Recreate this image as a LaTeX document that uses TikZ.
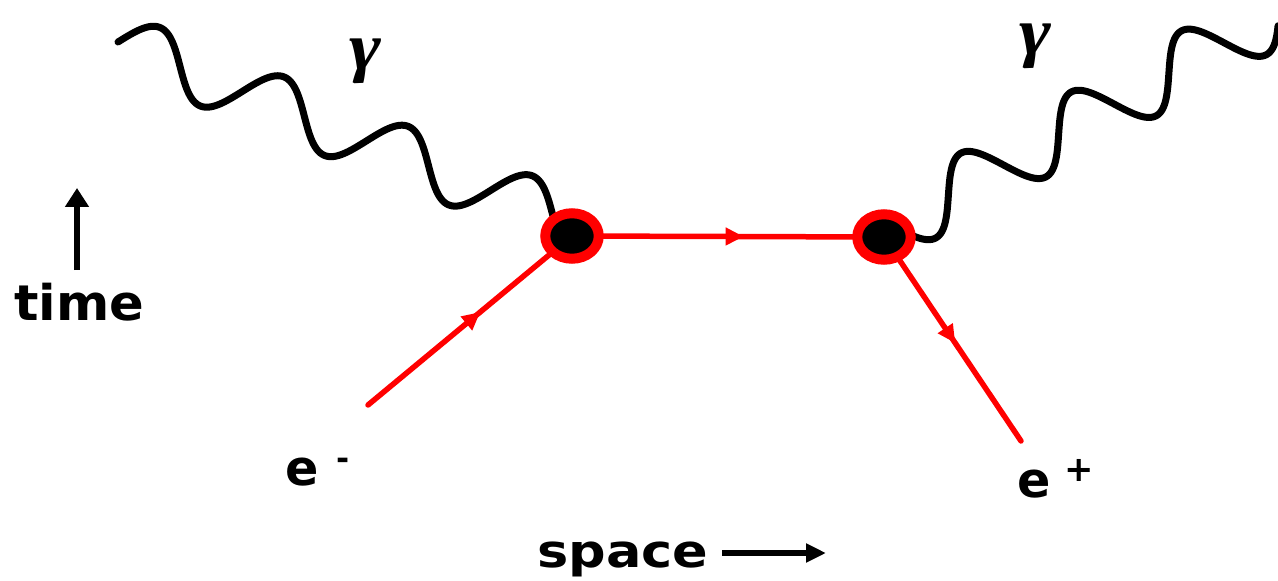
\documentclass[tikz,border=0pt]{standalone}
\usepackage{fontspec}
\newfontfamily\labfont{DejaVu Sans}
\newfontfamily\timefont{DejaVu Sans}[FakeStretch=1.04]
\newfontfamily\spacefont{DejaVu Sans}[FakeStretch=1.15]
\newfontfamily\gamfont{Liberation Serif}[FakeStretch=1.15]
\usetikzlibrary{shapes.geometric, arrows.meta, decorations.markings}
\tikzset{
  photon/.style={line width=0.14cm, black, line cap=round, line join=round},
  fermion/.style={red, line width=0.11cm, line cap=round},
  midarrow/.style={decoration={markings,
      mark=at position #1 with {\arrow{Triangle[length=0.36cm,width=0.34cm]}}},
      postaction={decorate}},
  vertex/.style={ellipse, draw=red, fill=black, line width=0.2cm,
      minimum width=1.07cm, minimum height=0.91cm, inner sep=0pt},
  lbl/.style={inner sep=0pt, font=\labfont\bfseries\fontsize{28pt}{30pt}\selectfont},
  timelbl/.style={inner sep=0pt, font=\timefont\bfseries\fontsize{28pt}{30pt}\selectfont},
  spacelbl/.style={inner sep=0pt, font=\spacefont\bfseries\fontsize{26pt}{28pt}\selectfont},
  gam/.style={inner sep=0pt, font=\gamfont\bfseries\itshape\fontsize{38pt}{40pt}\selectfont},
  axisarrow/.style={black, line width=0.11cm}
}
\begin{document}
\begin{tikzpicture}[x=0.02cm, y=-0.02cm]
\useasboundingbox (0,0) rectangle (1278,581);
\clip (0,0) rectangle (1278,581);
\fill[white] (0,0) rectangle (1278,581);
% key points
\coordinate (cA) at (572,236);
\coordinate (cB) at (884,237);
\coordinate (e1) at (368,405);
\coordinate (e2) at (1021,441);
\coordinate (g1) at (118,42);
\coordinate (g2) at (913,238);
% photons
\draw[photon, shift={(g1)}] plot[domain=0:468, samples=260, variable=\u]
  ({0.929*\u+10.73*sin(2.6926*\u)}, {0.370*\u-26.94*sin(2.6926*\u)});
\draw[photon, shift={(g2)}] plot[domain=-20:402, samples=240, variable=\u]
  ({7.8+0.875*\u+15.04*cos(2.857*\u)}, {-27.2-0.485*\u+27.13*cos(2.857*\u)});
% fermion lines
\draw[fermion, midarrow=0.55] (e1) -- (cA);
\draw[fermion, midarrow=0.55] (cA) -- (cB);
\draw[fermion, midarrow=0.52] (cB) -- (e2);
% vertices
\node[vertex] (A) at (cA) {};
\node[vertex] (B) at (cB) {};
% labels
\node[gam] (gL) at (365,61) {γ};
\node[gam] (gR) at (1035,46) {γ};
\node[lbl, anchor=base west] (em) at (285,485) {e\hspace{10pt}\raisebox{9pt}{\fontsize{18pt}{18pt}\selectfont -}};
\node[lbl, anchor=base west] (ep) at (1017,497) {e\hspace{8pt}\raisebox{9pt}{\fontsize{20pt}{20pt}\selectfont +}};
\node[timelbl, anchor=base west] (time) at (14,320) {time};
\node[spacelbl, anchor=base west] (space) at (537,567) {space};
% axis arrows
\coordinate (ta) at (77,270);
\coordinate (tb) at (77,188);
\draw[axisarrow, -{Triangle[length=0.38cm,width=0.46cm]}] (ta) -- (tb);
\coordinate (sa) at (722,553);
\coordinate (sb) at (826,553);
\draw[axisarrow, -{Triangle[length=0.4cm,width=0.36cm]}] (sa) -- (sb);
\end{tikzpicture}
\end{document}
